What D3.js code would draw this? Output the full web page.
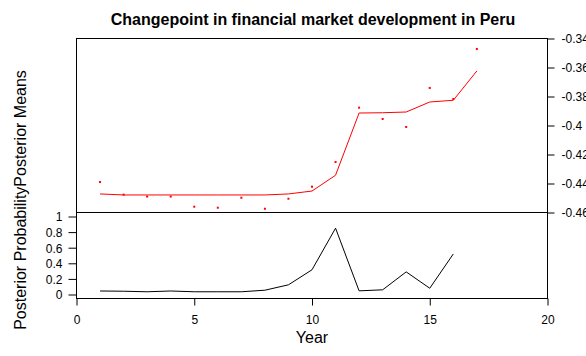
<!DOCTYPE html>
<html>
<head>
<meta charset="utf-8">
<script src="https://cdn.jsdelivr.net/npm/d3@7"></script>
<style>
  html, body { margin: 0; padding: 0; background: #fff; }
  text { font-family: "Liberation Sans", Arial, sans-serif; fill: #000; }
</style>
</head>
<body>
<svg id="chart" width="586" height="356"></svg>
<script>
// ---- data ----
const titleText = "Changepoint in financial market development in Peru";
const xLabel = "Year";
const yLabel = "Posterior ProbabilityPosterior Means";
const years = [1, 2, 3, 4, 5, 6, 7, 8, 9, 10, 11, 12, 13, 14, 15, 16, 17];
const observed = [-0.439, -0.4477, -0.449, -0.449, -0.456, -0.4567, -0.4498, -0.4574, -0.4505,
                  -0.4422, -0.4252, -0.3877, -0.3955, -0.401, -0.3741, -0.3817, -0.3472];
const posteriorMean = [-0.4472, -0.4479, -0.4479, -0.4479, -0.4479, -0.4479, -0.4479, -0.4479, -0.4472,
                       -0.4452, -0.4343, -0.3914, -0.3912, -0.3907, -0.3838, -0.3826, -0.3624];
const probYears = [1, 2, 3, 4, 5, 6, 7, 8, 9, 10, 11, 12, 13, 14, 15, 16];
const posteriorProb = [0.045, 0.042, 0.035, 0.045, 0.035, 0.035, 0.035, 0.055, 0.124,
                       0.317, 0.85, 0.047, 0.06, 0.29, 0.08, 0.52];
const xTicks = [0, 5, 10, 15, 20];
const meanTicks = [-0.46, -0.44, -0.42, -0.40, -0.38, -0.36, -0.34];
const meanTickLabels = ["-0.46", "-0.44", "-0.42", "-0.4", "-0.38", "-0.36", "-0.34"];
const probTicks = [0, 0.2, 0.4, 0.6, 0.8, 1];
const probTickLabels = ["0", "0.2", "0.4", "0.6", "0.8", "1"];

// ---- layout ----
const L = 76.5, R = 547.5, T = 38.5, M = 212.5, B = 298.5;
const svg = d3.select("#chart");

const x = d3.scaleLinear().domain([0, 20]).range([L, R]);
const yTop = d3.scaleLinear().domain([-0.46, -0.34]).range([M, T]);
const yBot = d3.scaleLinear().domain([0, 1]).range([294.5, 216.5]);

// title
svg.append("text")
  .attr("x", (L + R) / 2 + 1).attr("y", 25)
  .attr("text-anchor", "middle")
  .style("font-weight", "bold").style("font-size", "16px")
  .text(titleText);

// boxes
const box = svg.append("g").attr("fill", "none").attr("stroke", "#000").attr("stroke-width", 1);
box.append("rect").attr("x", L).attr("y", T).attr("width", R - L).attr("height", M - T);
box.append("rect").attr("x", L).attr("y", M).attr("width", R - L).attr("height", B - M);

// right axis (posterior means)
const axR = svg.append("g").attr("transform", `translate(${R},0)`)
  .call(d3.axisRight(yTop).tickValues(meanTicks).tickSize(7).tickPadding(7)
        .tickFormat((d, i) => meanTickLabels[i]));
// left axis (posterior probability)
const axL = svg.append("g").attr("transform", `translate(${L},0)`)
  .call(d3.axisLeft(yBot).tickValues(probTicks).tickSize(8).tickPadding(6)
        .tickFormat((d, i) => probTickLabels[i]));
// bottom axis
const axB = svg.append("g").attr("transform", `translate(0,${B})`)
  .call(d3.axisBottom(x).tickValues(xTicks).tickSize(7).tickPadding(10)
        .tickFormat(d3.format("d")));
[axR, axL, axB].forEach(a => {
  a.select(".domain").remove();
  a.selectAll("line").attr("stroke", "#000");
  a.selectAll("text").style("font-size", "12px")
    .style("font-family", '"Liberation Sans", Arial, sans-serif');
});
axR.selectAll("text").attr("dy", "0.36em");
axL.selectAll("text").attr("dy", "0.36em");
axL.append("line").attr("x1", 0).attr("x2", 0)
  .attr("y1", yBot(0)).attr("y2", yBot(1)).attr("stroke", "#000");

// axis labels
svg.append("text")
  .attr("x", (L + R) / 2).attr("y", 343)
  .attr("text-anchor", "middle").style("font-size", "16px")
  .text(xLabel);
svg.append("text")
  .attr("transform", `translate(26,200) rotate(-90)`)
  .attr("text-anchor", "middle").style("font-size", "16px")
  .text(yLabel);

// posterior mean line
svg.append("path")
  .datum(years.map((yr, i) => [yr, posteriorMean[i]]))
  .attr("fill", "none").attr("stroke", "#ff0000").attr("stroke-width", 1)
  .attr("d", d3.line().x(d => x(d[0])).y(d => yTop(d[1])));

// observed points
svg.append("g").selectAll("rect")
  .data(years.map((yr, i) => [yr, observed[i]]))
  .join("rect")
  .attr("x", d => x(d[0]) - 1).attr("y", d => yTop(d[1]) - 1)
  .attr("width", 2).attr("height", 2)
  .attr("fill", "#ff0000");

// posterior probability line
svg.append("path")
  .datum(probYears.map((yr, i) => [yr, posteriorProb[i]]))
  .attr("fill", "none").attr("stroke", "#000").attr("stroke-width", 1)
  .attr("d", d3.line().x(d => x(d[0])).y(d => yBot(d[1])));
</script>
</body>
</html>
